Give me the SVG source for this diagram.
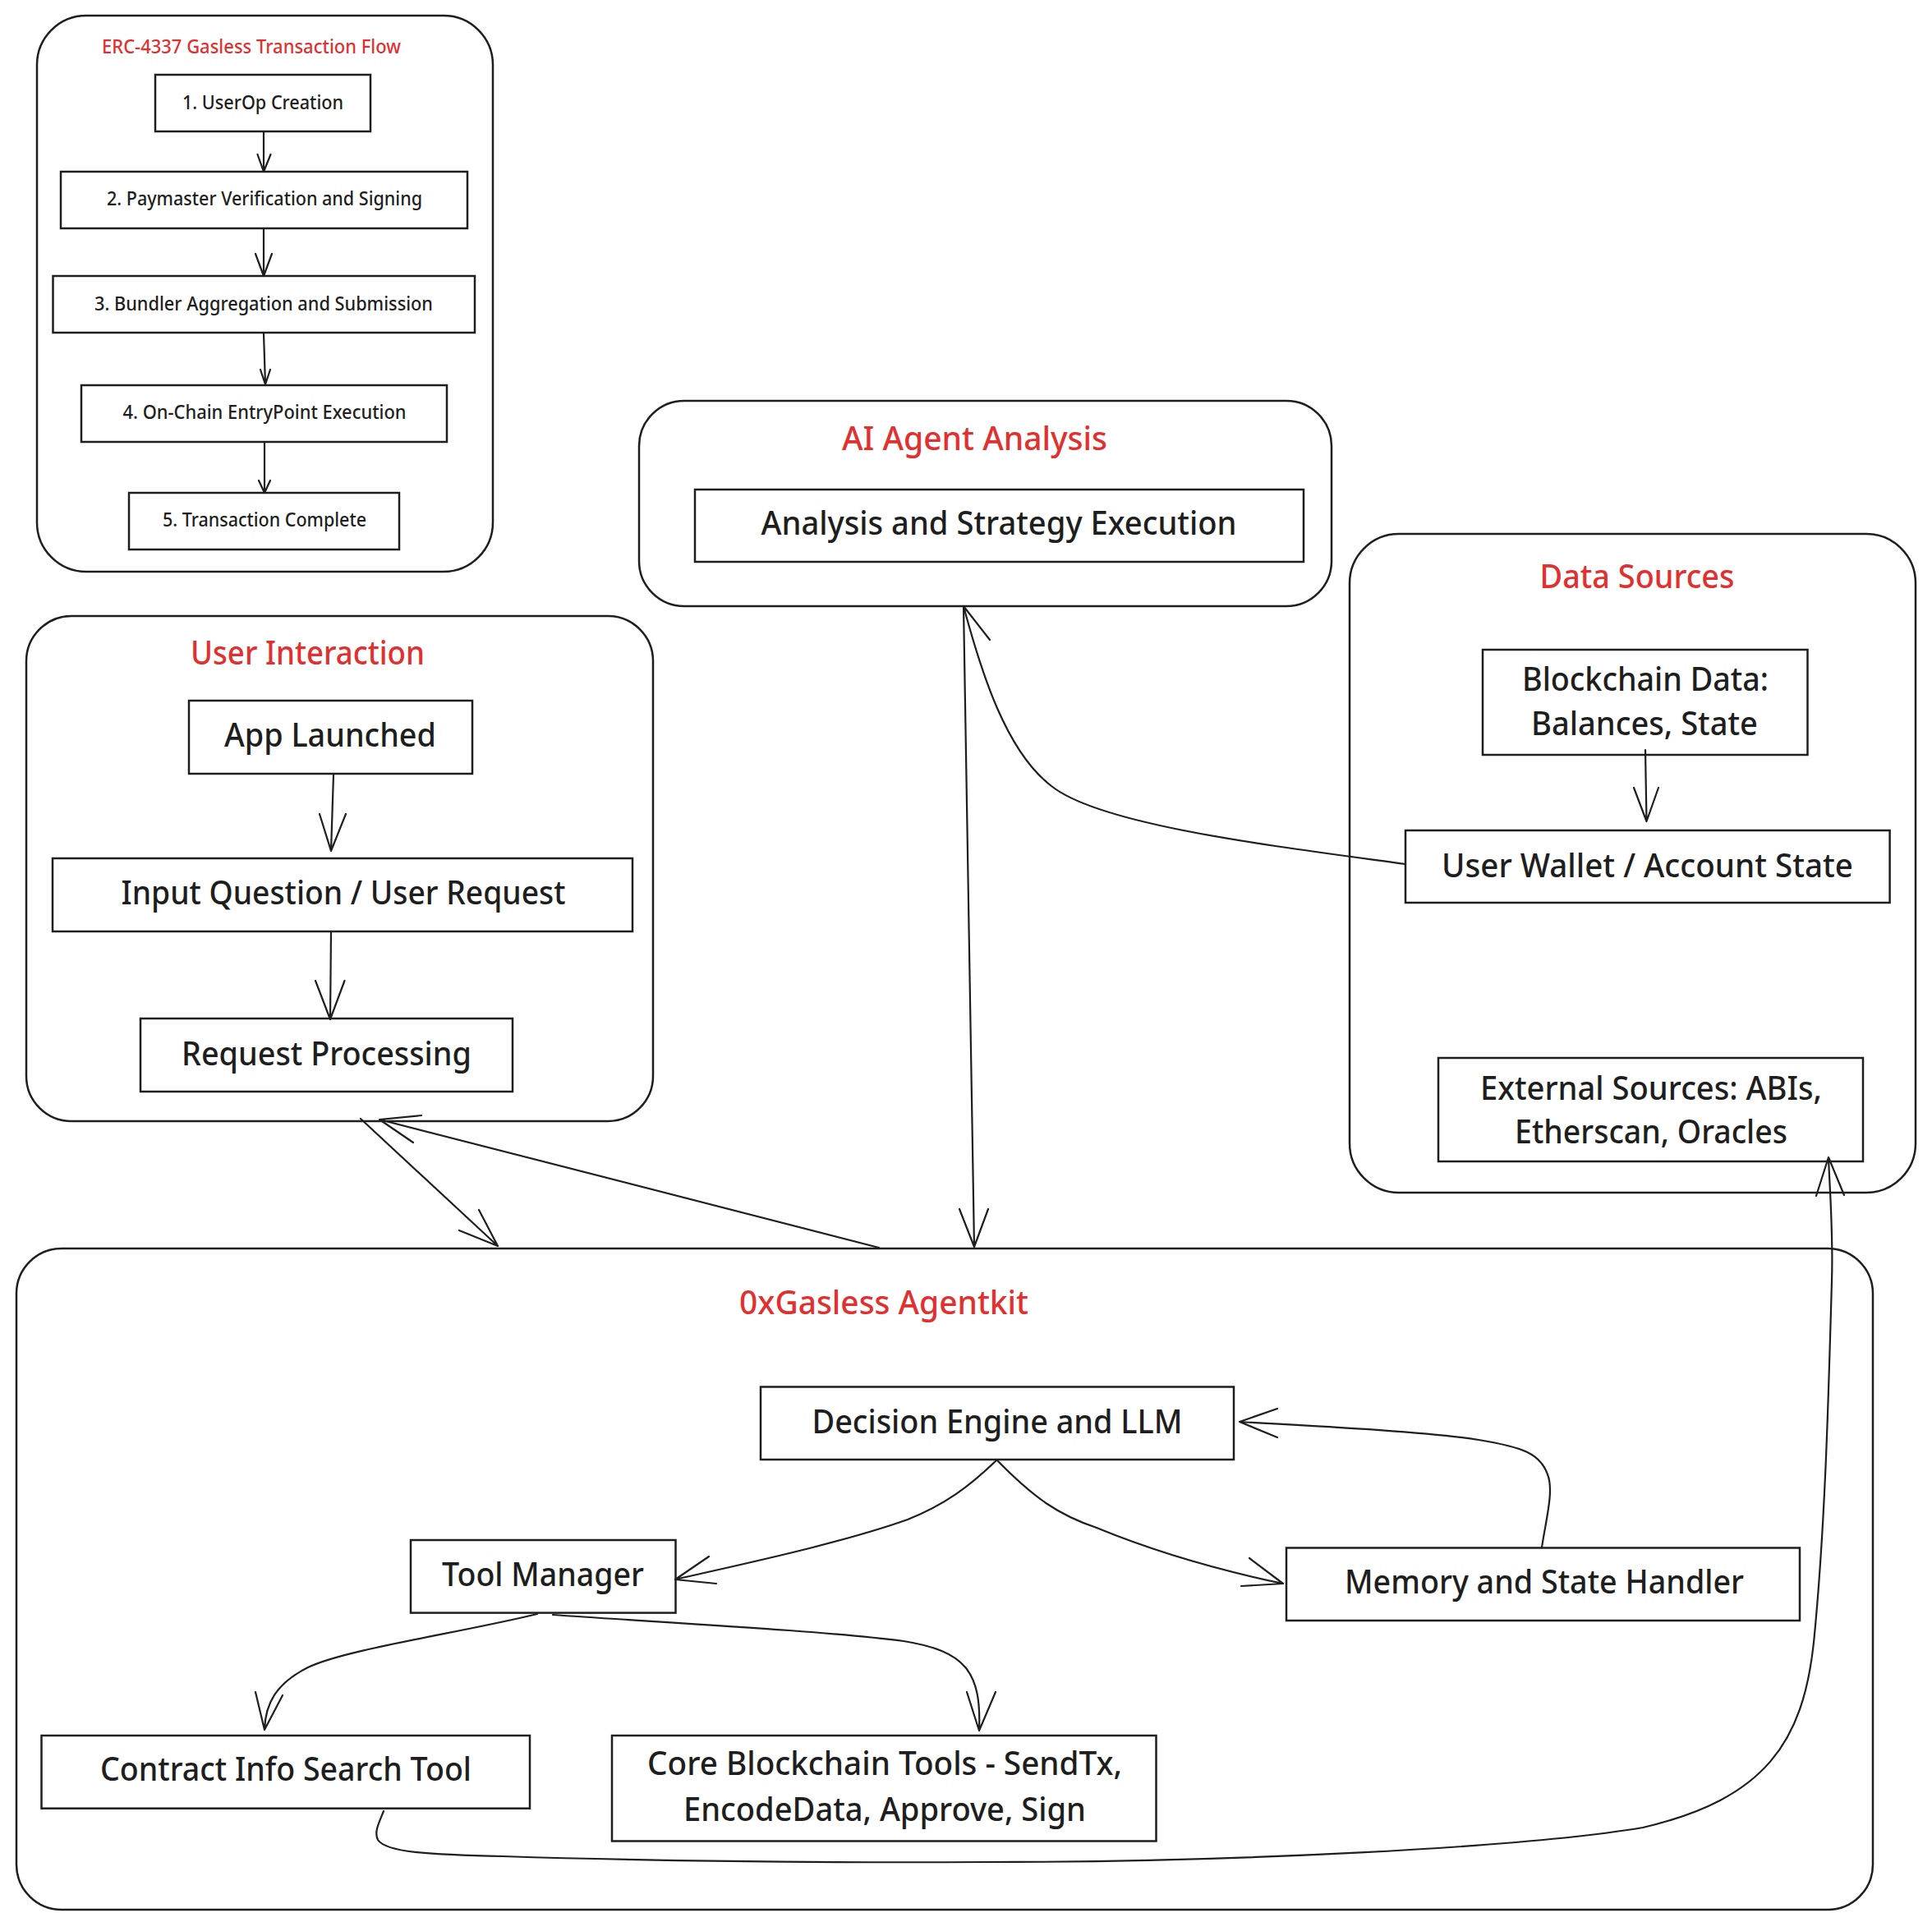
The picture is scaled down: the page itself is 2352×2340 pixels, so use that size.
<svg xmlns="http://www.w3.org/2000/svg" width="2352" height="2340" viewBox="0 0 2352 2340">
<style>
.cont{fill:none;stroke:#1e1e1e;stroke-width:2.5}
.box{fill:none;stroke:#1e1e1e;stroke-width:2.5}
.t{font-family:"Noto Sans","Open Sans",sans-serif;fill:#1e1e1e;text-anchor:middle;font-weight:500}
.big{font-size:40px}
.sm{font-size:23px}
.red{fill:#e03131}
.c{fill:none;stroke:#1e1e1e;stroke-width:2.2;stroke-linecap:round;stroke-linejoin:round}
</style>
<rect width="2352" height="2340" fill="#ffffff"/>

<g id="erc-flow">
<rect class="cont" x="45" y="19" width="555" height="677" rx="60"/>
<text class="t sm red" x="306" y="65" textLength="364" lengthAdjust="spacingAndGlyphs">ERC-4337 Gasless Transaction Flow</text>
</g>
<g id="userop"><rect class="box" x="189" y="91" width="262" height="69"/><text class="t sm" x="320" y="133" textLength="196" lengthAdjust="spacingAndGlyphs">1. UserOp Creation</text></g>
<g id="paymaster"><rect class="box" x="74" y="209" width="495" height="69"/><text class="t sm" x="322" y="250" textLength="384" lengthAdjust="spacingAndGlyphs">2. Paymaster Verification and Signing</text></g>
<g id="bundler"><rect class="box" x="64.5" y="336" width="513.5" height="69"/><text class="t sm" x="321" y="378" textLength="412" lengthAdjust="spacingAndGlyphs">3. Bundler Aggregation and Submission</text></g>
<g id="entrypoint"><rect class="box" x="99" y="469" width="445" height="69"/><text class="t sm" x="322" y="510" textLength="345" lengthAdjust="spacingAndGlyphs">4. On-Chain EntryPoint Execution</text></g>
<g id="complete"><rect class="box" x="157" y="600" width="329" height="69"/><text class="t sm" x="322" y="641" textLength="248" lengthAdjust="spacingAndGlyphs">5. Transaction Complete</text></g>

<g id="user-interaction">
<rect class="cont" x="32" y="750" width="763" height="615" rx="55"/>
<text class="t big red" x="374.5" y="809" textLength="285" lengthAdjust="spacingAndGlyphs">User Interaction</text>
</g>
<g id="app-launched"><rect class="box" x="230" y="853" width="345" height="89"/><text class="t big" x="402" y="909" textLength="258" lengthAdjust="spacingAndGlyphs">App Launched</text></g>
<g id="input-question"><rect class="box" x="64" y="1045" width="706" height="89"/><text class="t big" x="418" y="1101" textLength="541" lengthAdjust="spacingAndGlyphs">Input Question / User Request</text></g>
<g id="request-processing"><rect class="box" x="171" y="1240" width="453" height="89"/><text class="t big" x="397.5" y="1297" textLength="353" lengthAdjust="spacingAndGlyphs">Request Processing</text></g>

<g id="ai-agent">
<rect class="cont" x="778" y="488" width="843" height="250" rx="55"/>
<text class="t big red" x="1186.5" y="548" textLength="323" lengthAdjust="spacingAndGlyphs">AI Agent Analysis</text>
</g>
<g id="analysis"><rect class="box" x="846" y="596" width="741" height="88"/><text class="t big" x="1216" y="651" textLength="579" lengthAdjust="spacingAndGlyphs">Analysis and Strategy Execution</text></g>

<g id="data-sources">
<rect class="cont" x="1643" y="650" width="689" height="802" rx="60"/>
<text class="t big red" x="1993" y="716" textLength="237" lengthAdjust="spacingAndGlyphs">Data Sources</text>
</g>
<g id="blockchain-data"><rect class="box" x="1805" y="791" width="395.5" height="128"/>
<text class="t big" x="2003" y="840.5" textLength="300" lengthAdjust="spacingAndGlyphs">Blockchain Data:</text>
<text class="t big" x="2002" y="895" textLength="276" lengthAdjust="spacingAndGlyphs">Balances, State</text></g>
<g id="user-wallet"><rect class="box" x="1711" y="1011" width="589.6" height="88"/><text class="t big" x="2005.5" y="1067.5" textLength="501" lengthAdjust="spacingAndGlyphs">User Wallet / Account State</text></g>
<g id="external-sources"><rect class="box" x="1751" y="1288" width="517" height="126"/>
<text class="t big" x="2010" y="1339" textLength="416" lengthAdjust="spacingAndGlyphs">External Sources: ABIs,</text>
<text class="t big" x="2010" y="1392" textLength="332" lengthAdjust="spacingAndGlyphs">Etherscan, Oracles</text></g>

<g id="agentkit">
<rect class="cont" x="20" y="1520" width="2260" height="805" rx="55"/>
<text class="t big red" x="1076" y="1600" textLength="352" lengthAdjust="spacingAndGlyphs">0xGasless Agentkit</text>
</g>
<g id="decision-engine"><rect class="box" x="926" y="1688.5" width="576" height="88.5"/><text class="t big" x="1214" y="1745" textLength="451" lengthAdjust="spacingAndGlyphs">Decision Engine and LLM</text></g>
<g id="tool-manager"><rect class="box" x="500" y="1875" width="322.5" height="88.6"/><text class="t big" x="661" y="1931" textLength="246" lengthAdjust="spacingAndGlyphs">Tool Manager</text></g>
<g id="memory"><rect class="box" x="1566" y="1884.5" width="625" height="88.5"/><text class="t big" x="1880" y="1939.5" textLength="486" lengthAdjust="spacingAndGlyphs">Memory and State Handler</text></g>
<g id="contract-info"><rect class="box" x="50.5" y="2113" width="594.5" height="88.7"/><text class="t big" x="348" y="2168" textLength="452" lengthAdjust="spacingAndGlyphs">Contract Info Search Tool</text></g>
<g id="core-tools"><rect class="box" x="745" y="2113" width="662.5" height="128.5"/>
<text class="t big" x="1077" y="2161" textLength="578" lengthAdjust="spacingAndGlyphs">Core Blockchain Tools - SendTx,</text>
<text class="t big" x="1077" y="2217" textLength="490" lengthAdjust="spacingAndGlyphs">EncodeData, Approve, Sign</text></g>

<g id="connectors">
<path class="c" d="M321,160 L321,209 M313.5,188 L321,209 L329.5,188"/>
<path class="c" d="M321,278 L321,336 M311,309 L321,336 L331,309"/>
<path class="c" d="M321,406 L323,468 M317,450 L323,468 L329,450"/>
<path class="c" d="M322,539 L322,600 M315,585 L322,600 L329,585"/>

<path class="c" d="M406,943 L403,1036 M389,991 L403,1036 L421,991"/>
<path class="c" d="M403,1134 L402,1241 M384,1194 L402,1241 L419.5,1194"/>
<path class="c" d="M439,1362 L606,1517 M559,1498 L606,1517 L583,1473"/>
<path class="c" d="M1070,1519 L462,1363 M513,1358 L462,1363 L503,1391"/>

<path class="c" d="M1173,738 L1186,1518 M1168,1472 L1186,1518 L1203,1472"/>
<path class="c" d="M1711,1052 C1550,1030 1340,1005 1280,957 C1225,915 1195,820 1173,738 M1205,779 L1173,738"/>

<path class="c" d="M2003,913 L2004.5,1000 M1989,959 L2004.5,1000 L2019,959"/>

<path class="c" d="M1214,1777 C1180,1810 1150,1832 1105,1850 C1020,1880 900,1905 822,1923 M863,1895 L822,1923 L872,1928"/>
<path class="c" d="M1214,1778 C1260,1825 1290,1845 1335,1860 C1420,1895 1500,1915 1562,1928 M1521,1897 L1562,1928 L1511,1931"/>
<path class="c" d="M1877,1884 C1882,1850 1892,1815 1884,1795 C1875,1770 1855,1762 1800,1753 C1740,1743 1600,1736 1509,1731 M1555,1715 L1509,1731 L1555,1750"/>
<path class="c" d="M654,1965 C560,1988 420,2008 375,2030 C335,2050 323,2075 322,2106 M311,2060 L322,2106 L344,2064"/>
<path class="c" d="M673,1966 C800,1975 1000,1985 1100,1998 C1175,2010 1195,2035 1192,2107 M1177,2060 L1192,2107 L1212,2060"/>
<path class="c" d="M467,2205 C462,2218 455,2230 460,2240 C470,2255 520,2258 612,2260 C800,2266 1000,2268 1200,2267 C1500,2267 1850,2250 2000,2225 C2150,2190 2195,2120 2208,2000 C2222,1860 2226,1700 2230,1560 C2232,1500 2227,1440 2226,1409 M2211,1456 L2226,1409 L2245,1455"/>
</g>
</svg>
